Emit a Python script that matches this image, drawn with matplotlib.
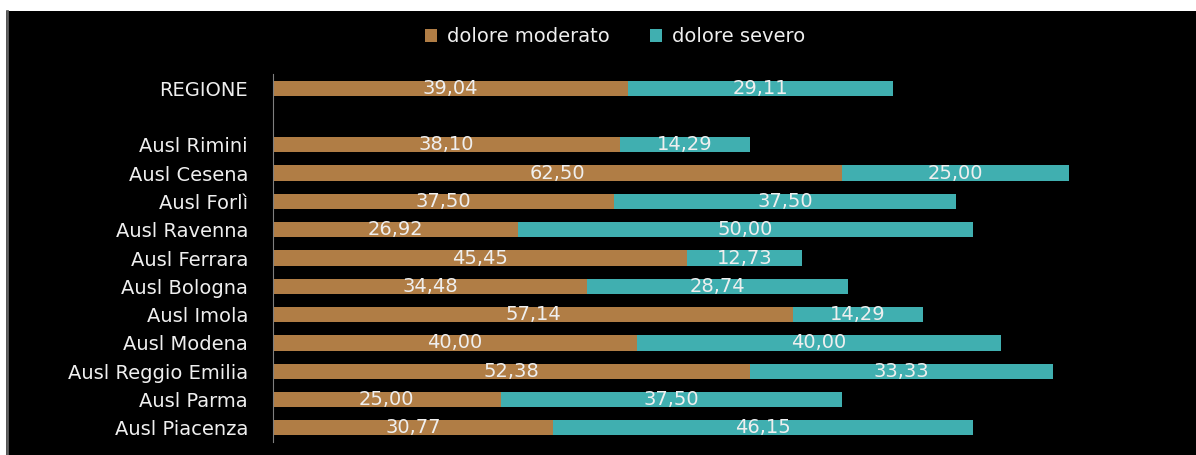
import matplotlib
matplotlib.use("Agg")
import matplotlib.pyplot as plt
from matplotlib.patches import Rectangle

# Data (top to bottom), empty string is the gap row under REGIONE
categories = ["REGIONE", "", "Ausl Rimini", "Ausl Cesena", "Ausl Forlì", "Ausl Ravenna",
              "Ausl Ferrara", "Ausl Bologna", "Ausl Imola", "Ausl Modena",
              "Ausl Reggio Emilia", "Ausl Parma", "Ausl Piacenza"]
moderato = [39.04, None, 38.10, 62.50, 37.50, 26.92, 45.45, 34.48, 57.14, 40.00, 52.38, 25.00, 30.77]
severo = [29.11, None, 14.29, 25.00, 37.50, 50.00, 12.73, 28.74, 14.29, 40.00, 33.33, 37.50, 46.15]
series_names = ["dolore moderato", "dolore severo"]

BROWN = "#B07D45"
TEAL = "#40AFB0"
TEXT = "#EFEFEF"
FS = 14


def fmt(v):
    return f"{v:.2f}".replace(".", ",")


fig = plt.figure(figsize=(11.96, 4.55), dpi=100, facecolor="white")

# black panel behind everything, grey line on its left edge
bg = fig.add_axes([0, 0, 1, 1], zorder=-1)
bg.set_xlim(0, 1196)
bg.set_ylim(455, 0)
bg.axis("off")
bg.add_patch(Rectangle((6, 11), 1190, 444, facecolor="black", edgecolor="none"))
bg.plot([7, 7], [11, 455], color="#606060", linewidth=2)

ax = fig.add_axes([273 / 1196, 1 - 442 / 455, 910 / 1196, (442 - 74) / 455])
ax.patch.set_alpha(0)

ypos = list(range(len(categories)))
for i, (m, s) in enumerate(zip(moderato, severo)):
    if m is None:
        continue
    ax.barh(i, m, height=0.54, color=BROWN, label=series_names[0] if i == 0 else None)
    ax.barh(i, s, left=m, height=0.54, color=TEAL, label=series_names[1] if i == 0 else None)
    ax.text(m / 2, i, fmt(m), ha="center", va="center", color=TEXT, fontsize=FS)
    ax.text(m + s / 2, i, fmt(s), ha="center", va="center", color=TEXT, fontsize=FS)

ax.set_xlim(0, 100)
ax.set_ylim(len(categories) - 0.5, -0.5)
ax.set_yticks(ypos)
ax.set_yticklabels(categories, color=TEXT, fontsize=FS)
ax.tick_params(axis="y", length=0, pad=18)
ax.set_xticks([])
for side in ["top", "right", "bottom"]:
    ax.spines[side].set_visible(False)
ax.spines["left"].set_color("#7F7F7F")

leg = fig.legend(loc="center", bbox_to_anchor=(615 / 1196, 1 - 37 / 455), ncol=2,
                 frameon=False, fontsize=FS, handlelength=0.6, handleheight=0.6,
                 handletextpad=0.5, columnspacing=2.1)
for t in leg.get_texts():
    t.set_color(TEXT)

fig.savefig("out.png", dpi=100, facecolor="white")
